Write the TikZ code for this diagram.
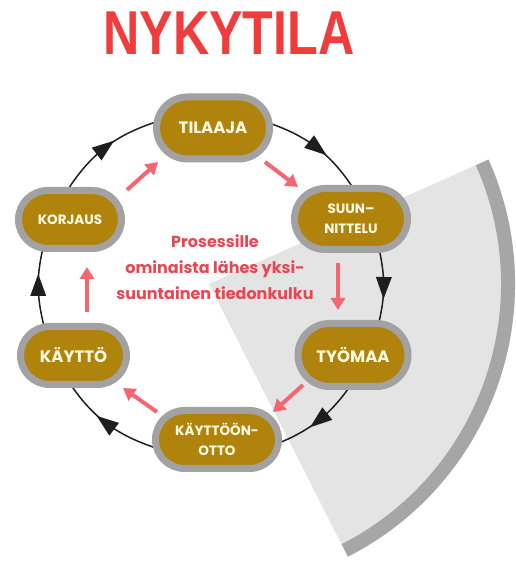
\documentclass[tikz,border=0pt]{standalone}
\usepackage{fontspec}
\usepackage{graphicx}
\setmainfont{Liberation Sans}
\newfontfamily\popfont{Poppins}
\newfontfamily\titlefont{Liberation Sans}
\usetikzlibrary{shapes.misc,arrows.meta,decorations.markings}
\definecolor{goldc}{RGB}{176,131,12}
\definecolor{rimgray}{RGB}{162,162,162}
\definecolor{creamc}{RGB}{255,250,228}
\definecolor{wedgec}{RGB}{228,228,228}
\definecolor{bandc}{RGB}{166,166,166}
\definecolor{titlered}{RGB}{240,60,60}
\definecolor{notered}{RGB}{232,70,82}
\definecolor{pinkc}{RGB}{244,102,112}
\definecolor{linec}{RGB}{30,30,30}
\pgfdeclarelayer{back}
\pgfdeclarelayer{links}
\pgfsetlayers{back,links,main}
\tikzset{
  stage/.style={rounded rectangle, fill=goldc, draw=rimgray, line width=7pt,
    text=creamc, align=center, inner sep=0pt, font=\popfont\bfseries},
  bigtext/.style={font=\popfont\bfseries\fontsize{16.5}{20}\selectfont},
  smalltext/.style={font=\popfont\bfseries\fontsize{13.5}{20}\selectfont},
  cyc/.style={draw=linec, line width=1.5pt, postaction={decorate},
    decoration={markings, mark=at position 0.5 with {\fill[linec] (11pt,0pt) -- (-11pt,8pt) -- (-11pt,-8pt) -- cycle;}}},
  pinkarr/.style={draw=pinkc, line width=4pt, -{Triangle[length=12pt,width=14pt]}},
  titlestyle/.style={text=titlered, font=\titlefont\bfseries\fontsize{62}{64}\selectfont, inner sep=0pt},
  notestyle/.style={text=notered, align=center, inner sep=0pt,
    font=\popfont\bfseries\fontsize{16}{26}\selectfont}
}
\begin{document}
\begin{tikzpicture}[x=1pt,y=1pt]
\useasboundingbox (0,0) rectangle (515,569);
% title
\node[titlestyle, anchor=base] (title) at (229,514) {\scalebox{0.81}[1]{NYKYTILA}};
% stages
\node[stage, bigtext, minimum width=113pt, minimum height=62pt] (tilaaja) at (213,441) {TILAAJA};
\node[stage, smalltext, minimum width=113pt, minimum height=61pt] (suun) at (351,350) {SUUN–\\NITTELU};
\node[stage, bigtext, minimum width=110pt, minimum height=63pt] (tyomaa) at (353,214) {TYÖMAA};
\node[stage, smalltext, minimum width=123pt, minimum height=58pt] (kayttoon) at (217,129.5) {KÄYTTÖÖN-\\OTTO};
\node[stage, bigtext, minimum width=106pt, minimum height=58pt] (kaytto) at (73.5,213.5) {KÄYTTÖ};
\node[stage, smalltext, minimum width=103pt, minimum height=58pt] (korjaus) at (70,349.5) {KORJAUS};
% note
\node[notestyle] (note) at (215,302) {Prosessille\\ominaista lähes yksi-\\suuntainen tiedonkulku};
% wedge
\begin{pgfonlayer}{back}
\fill[wedgec] (209,285) -- ++(-63:306) arc[start angle=-63, end angle=24, radius=306] -- cycle;
\fill[bandc] (209,285) ++(-63:292) arc[start angle=-63, end angle=24, radius=292]
  -- ++(24:14) arc[start angle=24, end angle=-63, radius=306] -- cycle;
\end{pgfonlayer}
% cycle connectors
\begin{pgfonlayer}{links}
\draw[cyc] ([shift={(51.2,6.6)}]tilaaja.center) to[out=-18,in=122] ([shift={(5.9,25.1)}]suun.center);
\draw[cyc] ([shift={(28.2,-30.2)}]suun.center) to[out=-78,in=76] ([shift={(24.9,28.4)}]tyomaa.center);
\draw[cyc] ([shift={(-1.1,-28.7)}]tyomaa.center) to[out=-125,in=22] ([shift={(58.4,-5)}]kayttoon.center);
\draw[cyc] ([shift={(-59.2,-9.1)}]kayttoon.center) to[out=162,in=-57] ([shift={(-6.8,-23.2)}]kaytto.center);
\draw[cyc] ([shift={(-29.4,28.9)}]kaytto.center) to[out=104,in=-104] ([shift={(-25.9,-23.9)}]korjaus.center);
\draw[cyc] ([shift={(-4.9,25.6)}]korjaus.center) to[out=58,in=-163] ([shift={(-52.3,7.5)}]tilaaja.center);
\end{pgfonlayer}
% information flow arrows
\draw[pinkarr] ([shift={(57,29.5)}]korjaus.center) -- ([shift={(-55,-34)}]tilaaja.center);
\draw[pinkarr] ([shift={(52,-34)}]tilaaja.center) -- ([shift={(-53,32)}]suun.center);
\draw[pinkarr] ([shift={(-13,-44)}]suun.center) -- ([shift={(-15,45)}]tyomaa.center);
\draw[pinkarr] ([shift={(-50,-30)}]tyomaa.center) -- ([shift={(56,27.5)}]kayttoon.center);
\draw[pinkarr] ([shift={(-60,27.5)}]kayttoon.center) -- ([shift={(49.5,-32.5)}]kaytto.center);
\draw[pinkarr] ([shift={(13.5,43.5)}]kaytto.center) -- ([shift={(17,-47.5)}]korjaus.center);
\end{tikzpicture}
\end{document}
